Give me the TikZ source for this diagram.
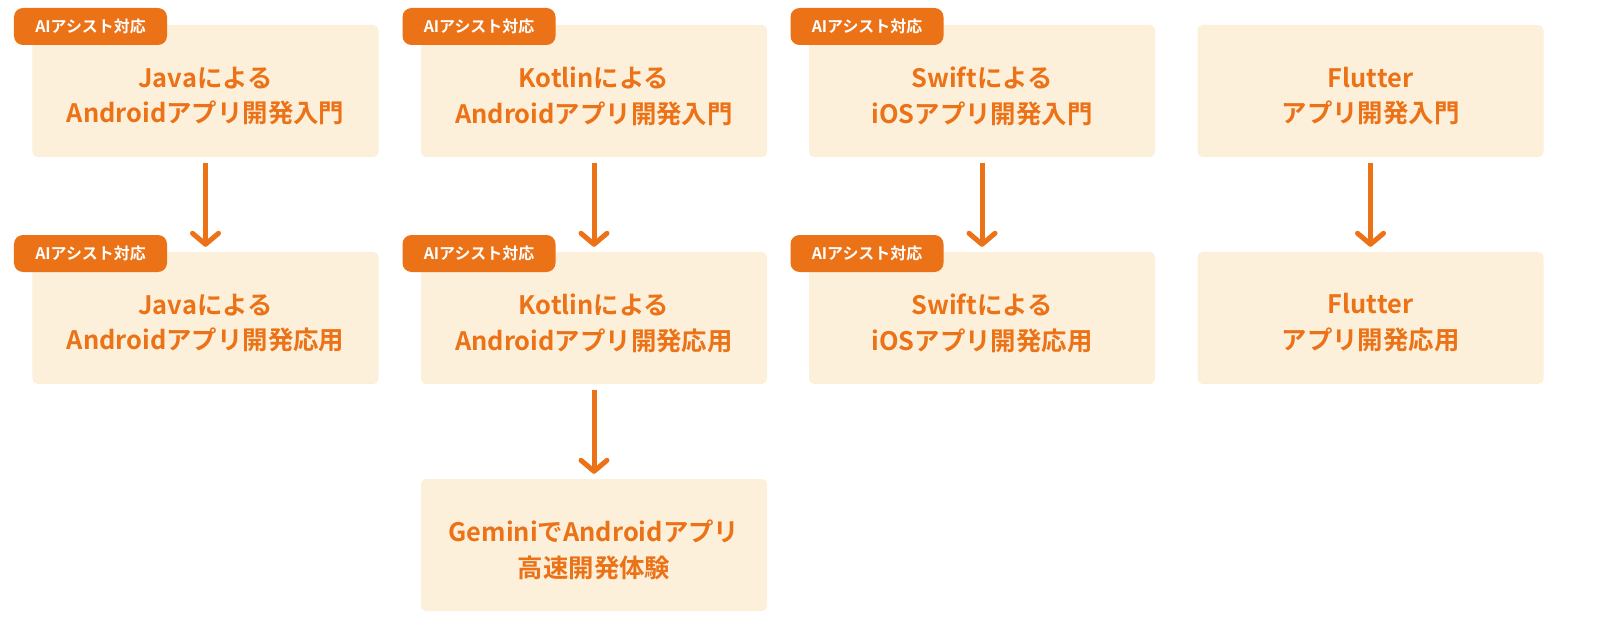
\documentclass[tikz,border=0pt]{standalone}
\usepackage{fontspec}
\setmainfont{Noto Sans CJK JP}[BoldFont={Noto Sans CJK JP Bold}]
\usetikzlibrary{arrows.meta}
\definecolor{org}{HTML}{EC7218}
\definecolor{bx}{HTML}{FCF0DA}
\tikzset{
 course/.style={fill=bx,rounded corners=5bp,minimum width=346bp,minimum height=132bp,inner sep=0pt,
   align=center,text=org,font=\bfseries\fontsize{25.5}{36}\selectfont},
 ctext/.style={text=org,align=center,inner sep=0pt,font=\bfseries\fontsize{25.5}{36}\selectfont},
 badge/.style={fill=org,rounded corners=9bp,minimum width=153bp,minimum height=37bp,inner sep=0pt,
   text=white,font=\bfseries\fontsize{16}{18}\selectfont},
 flow/.style={draw=org,line width=5bp,-{Straight Barb[length=11bp,width=26bp,line cap=round,line join=round]}}
}
\begin{document}
\begin{tikzpicture}[x=1bp,y=-1bp]
\useasboundingbox (0,0) rectangle (1600,630);
% boxes
\node[course] (j1) at (205.5,91) {};
\node[course] (j2) at (205.5,318) {};
\node[course] (k1) at (594,91) {};
\node[course] (k2) at (594,318) {};
\node[course] (k3) at (594,545) {};
\node[course] (s1) at (982,91) {};
\node[course] (s2) at (982,318) {};
\node[course] (f1) at (1370.5,91) {};
\node[course] (f2) at (1370.5,318) {};
% texts
\node[ctext] (tj1) at ([yshift=-5bp]j1.center) {Javaによる\\Androidアプリ開発入門};
\node[ctext] (tj2) at ([yshift=-5bp]j2.center) {Javaによる\\Androidアプリ開発応用};
\node[ctext] (tk1) at ([yshift=-5bp]k1.center) {Kotlinによる\\Androidアプリ開発入門};
\node[ctext] (tk2) at ([yshift=-5bp]k2.center) {Kotlinによる\\Androidアプリ開発応用};
\node[ctext] (tk3) at ([yshift=-5bp]k3.center) {GeminiでAndroidアプリ\\高速開発体験};
\node[ctext] (ts1) at ([yshift=-5bp]s1.center) {Swiftによる\\iOSアプリ開発入門};
\node[ctext] (ts2) at ([yshift=-5bp]s2.center) {Swiftによる\\iOSアプリ開発応用};
\node[ctext] (tf1) at ([yshift=-5bp]f1.center) {Flutter\\アプリ開発入門};
\node[ctext] (tf2) at ([yshift=-5bp]f2.center) {Flutter\\アプリ開発応用};
% badges
\node[badge] (bj1) at (90.5,26.5) {AIアシスト対応};
\node[badge] (bj2) at (90.5,253.5) {AIアシスト対応};
\node[badge] (bk1) at (479,26.5) {AIアシスト対応};
\node[badge] (bk2) at (479,253.5) {AIアシスト対応};
\node[badge] (bs1) at (867,26.5) {AIアシスト対応};
\node[badge] (bs2) at (867,253.5) {AIアシスト対応};
% arrows
\draw[flow] ([yshift=-6bp]j1.south) -- ([yshift=5bp]j2.north);
\draw[flow] ([yshift=-6bp]k1.south) -- ([yshift=5bp]k2.north);
\draw[flow] ([yshift=-6bp]k2.south) -- ([yshift=5bp]k3.north);
\draw[flow] ([yshift=-6bp]s1.south) -- ([yshift=5bp]s2.north);
\draw[flow] ([yshift=-6bp]f1.south) -- ([yshift=5bp]f2.north);
\end{tikzpicture}
\end{document}
